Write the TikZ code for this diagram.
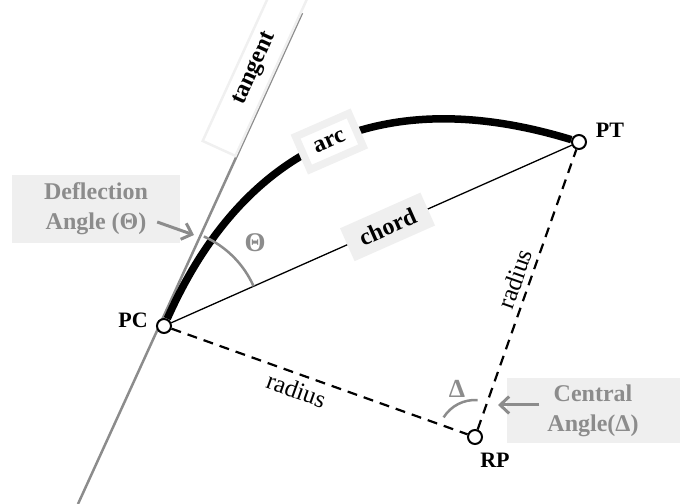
\documentclass[tikz,border=0pt]{standalone}
\usepackage{fontspec}
\setmainfont{Liberation Serif}
\usepackage{xcolor}
\usetikzlibrary{arrows.meta,positioning,calc}
\definecolor{notegray}{HTML}{8C8C8C}
\definecolor{boxgray}{HTML}{EFEFEF}
\definecolor{edgegray}{HTML}{F0F0F0}

\begin{document}
\begin{tikzpicture}[x=1pt, y=1pt,
    station/.style={circle, draw, line width=2pt, fill=white, minimum size=14pt, inner sep=0pt},
    ptlabel/.style={font=\fontsize{22}{24}\selectfont\bfseries, inner sep=0pt},
    tag/.style={font=\fontsize{24}{26}\selectfont\bfseries, inner sep=0pt},
    note/.style={rectangle, fill=boxgray, text=notegray, align=center, font=\fontsize{24}{30}\selectfont\bfseries},
    pointer/.style={-{Straight Barb[length=9pt, width=17pt]}, line width=3pt, notegray},
    radiusline/.style={dash pattern=on 10pt off 7pt, line width=2.2pt},
    radiustext/.style={sloped, font=\fontsize{25}{27}\selectfont, inner sep=0pt},
    anglemark/.style={notegray, line width=2.5pt}
]
\useasboundingbox (0,0) rectangle (681,504);

% Tangent line
\coordinate (tanlow) at (78,0);
\coordinate (tanhigh) at (302,491);
\draw[notegray, line width=2.5pt] (tanlow) -- node[pos=0.87, sloped, above=0pt, draw=edgegray, text=black, minimum width=175pt, minimum height=36pt, tag] (tanlabel) {tangent} (tanhigh);

% Points on the curve
\node[station] (PC) at (164,178) {};
\node[station] (PT) at (579,362) {};
\node[station] (RP) at (475,67) {};
\node[ptlabel] (PClabel) at (133,184) {PC};
\node[ptlabel] (PTlabel) at (610,374) {PT};
\node[ptlabel] (RPlabel) at (495,44) {RP};

% Arc and chord
\draw[line width=7.5pt] (PC) to[out=66, in=163, looseness=1.12] node[pos=0.5, sloped, fill=white, draw=edgegray, minimum width=58pt, minimum height=36pt, tag] (arclabel) {arc} (PT);
\draw[line width=1.3pt] (PC) -- node[pos=0.54, sloped, fill=boxgray, minimum width=88pt, minimum height=36pt, tag] (chordlabel) {chord} (PT);

% Radii
\draw[radiusline] (PC) -- node[pos=0.44, radiustext, below=6pt] (radlow) {radius} (RP);
\draw[radiusline] (RP) -- node[pos=0.52, radiustext, above=5pt] (radhigh) {radius} (PT);

% Angles
\draw[anglemark] ($(PC)+(66:98)$) arc[start angle=66, end angle=24, radius=98];
\node[tag, text=notegray, font=\fontsize{27}{28}\selectfont\bfseries] (thetalabel) at (255,261) {Θ};
\draw[anglemark] ($(RP)+(148:37)$) arc[start angle=148, end angle=86, radius=37];
\node[tag, text=notegray, font=\fontsize{26}{28}\selectfont\bfseries] (deltalabel) at (457,115) {Δ};

% Notes with pointers
\node[note, minimum width=168pt, minimum height=68pt] (deflect) at (96,295) {Deflection\\Angle (Θ)};
\coordinate (deflecttip) at (194,269);
\draw[pointer] ([xshift=-23pt, yshift=-13pt]deflect.east) -- (deflecttip);

\node[note, minimum width=173pt, minimum height=65pt] (central) at (593,93) {Central\\Angle(Δ)};
\coordinate (centraltip) at (498,99);
\draw[pointer] ([xshift=33pt, yshift=6pt]central.west) -- (centraltip);

\end{tikzpicture}
\end{document}
